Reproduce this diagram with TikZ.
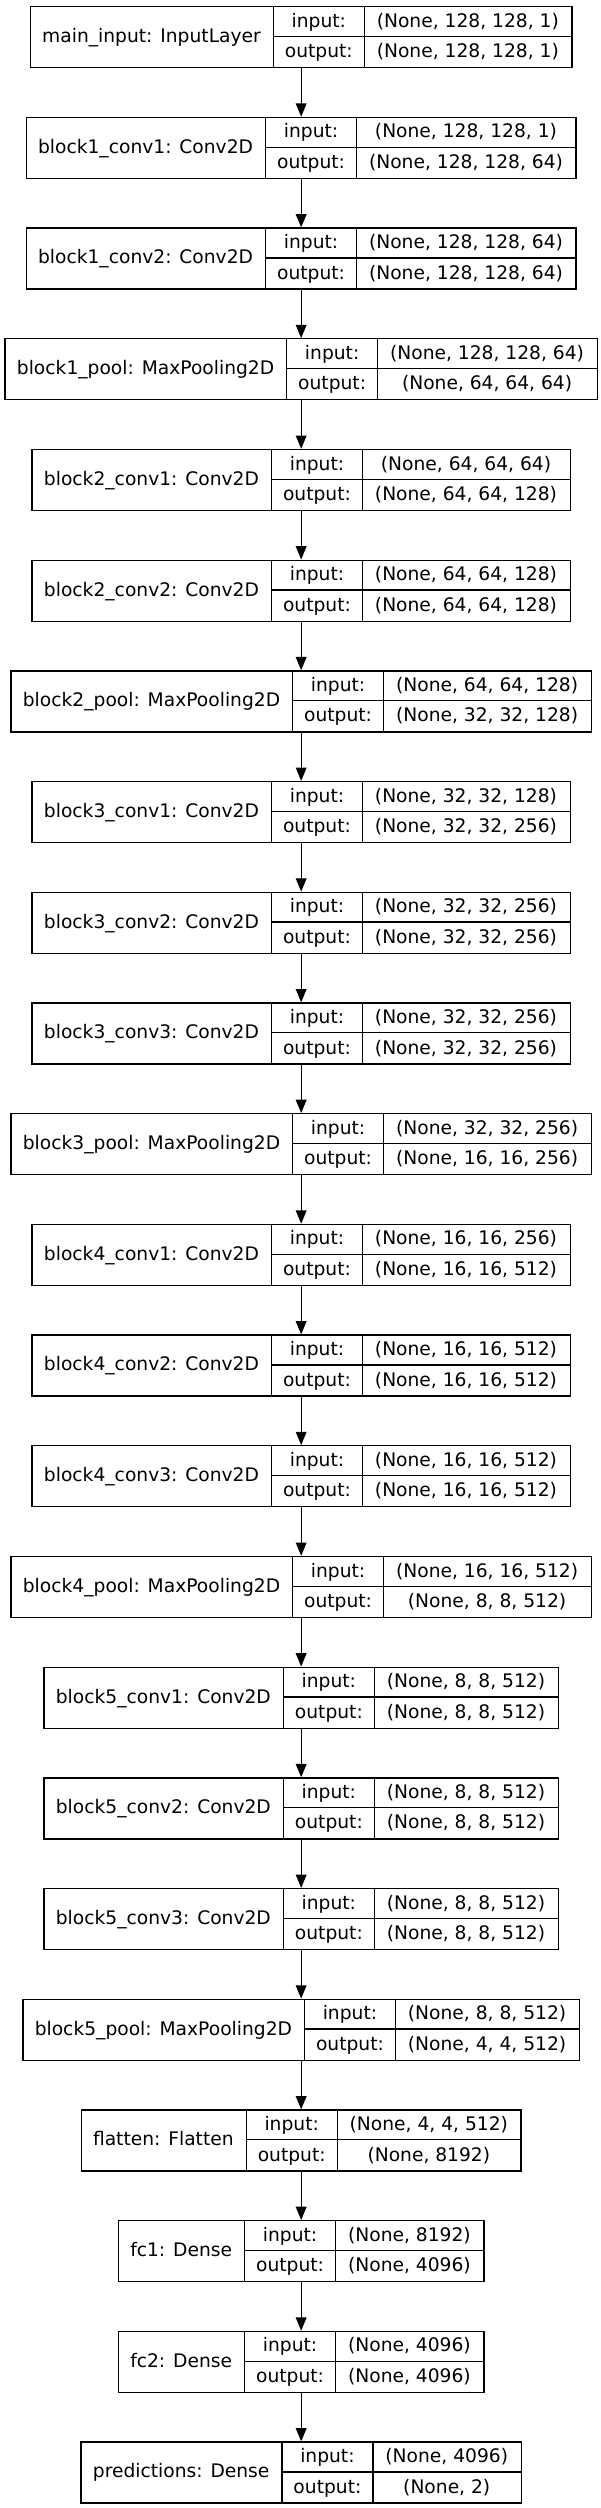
\documentclass[tikz,border=0pt]{standalone}
\usepackage{fontspec}
\setmainfont{DejaVu Sans}
\usetikzlibrary{arrows.meta}

\newlength\namew
\newlength\inw
\newlength\outw
\newcommand\layerfont{\fontsize{18.67}{22}\selectfont}

% \nnlayer{node}{row}{title}{input shape}{output shape}
\newcommand\nnlayer[5]{%
  \pgfinterruptpicture
    \settowidth\namew{\layerfont #3}\global\namew=\namew
    \settowidth\inw{\layerfont #4}%
    \settowidth\outw{\layerfont #5}%
    \ifdim\inw<\outw \inw=\outw \fi
    \global\inw=\inw
  \endpgfinterruptpicture
  \addtolength\namew{25pt}%
  \addtolength\inw{25pt}%
  \pgfmathsetmacro\ty{6+#2*110.7}%
  \pgfmathsetmacro\lx{300.5-0.5*(\namew+91pt+\inw)}%
  \pgfmathsetmacro\xa{\lx+\namew}%
  \pgfmathsetmacro\xb{\xa+91}%
  \pgfmathsetmacro\rx{\xb+\inw}%
  \pgfmathsetmacro\bw{\rx-\lx}%
  \node[layerbox, minimum width=\bw pt, anchor=north west] (#1) at (\lx,\ty) {};
  \draw[rule] (\xa,\ty) -- (\xa,\ty+61) (\xb,\ty) -- (\xb,\ty+61)
    (\xa,\ty+30.5) -- (\rx,\ty+30.5);
  \node[txt] (#1-name) at ({(\lx+\xa)/2},\ty+36.5) {#3};
  \node[txt] (#1-in) at ({(\xa+\xb)/2},\ty+21.25) {input:};
  \node[txt] (#1-out) at ({(\xa+\xb)/2},\ty+51.75) {output:};
  \node[txt] (#1-inshape) at ({(\xb+\rx)/2},\ty+21.25) {#4};
  \node[txt] (#1-outshape) at ({(\xb+\rx)/2},\ty+51.75) {#5};
}

\begin{document}
\begin{tikzpicture}[x=1pt, y=-1pt,
  layerbox/.style={draw, line width=1.33pt, inner sep=0pt, minimum height=61pt},
  rule/.style={line width=1.33pt},
  txt/.style={font=\layerfont, inner sep=0pt, anchor=base},
  edge/.style={-{Triangle[length=13.3pt,width=10.7pt]}, line width=1.33pt}]
\useasboundingbox (0,0) rectangle (601,2508);

\nnlayer{input}{0}{main\_input: InputLayer}{(None, 128, 128, 1)}{(None, 128, 128, 1)}
\nnlayer{b1c1}{1}{block1\_conv1: Conv2D}{(None, 128, 128, 1)}{(None, 128, 128, 64)}
\nnlayer{b1c2}{2}{block1\_conv2: Conv2D}{(None, 128, 128, 64)}{(None, 128, 128, 64)}
\nnlayer{b1p}{3}{block1\_pool: MaxPooling2D}{(None, 128, 128, 64)}{(None, 64, 64, 64)}
\nnlayer{b2c1}{4}{block2\_conv1: Conv2D}{(None, 64, 64, 64)}{(None, 64, 64, 128)}
\nnlayer{b2c2}{5}{block2\_conv2: Conv2D}{(None, 64, 64, 128)}{(None, 64, 64, 128)}
\nnlayer{b2p}{6}{block2\_pool: MaxPooling2D}{(None, 64, 64, 128)}{(None, 32, 32, 128)}
\nnlayer{b3c1}{7}{block3\_conv1: Conv2D}{(None, 32, 32, 128)}{(None, 32, 32, 256)}
\nnlayer{b3c2}{8}{block3\_conv2: Conv2D}{(None, 32, 32, 256)}{(None, 32, 32, 256)}
\nnlayer{b3c3}{9}{block3\_conv3: Conv2D}{(None, 32, 32, 256)}{(None, 32, 32, 256)}
\nnlayer{b3p}{10}{block3\_pool: MaxPooling2D}{(None, 32, 32, 256)}{(None, 16, 16, 256)}
\nnlayer{b4c1}{11}{block4\_conv1: Conv2D}{(None, 16, 16, 256)}{(None, 16, 16, 512)}
\nnlayer{b4c2}{12}{block4\_conv2: Conv2D}{(None, 16, 16, 512)}{(None, 16, 16, 512)}
\nnlayer{b4c3}{13}{block4\_conv3: Conv2D}{(None, 16, 16, 512)}{(None, 16, 16, 512)}
\nnlayer{b4p}{14}{block4\_pool: MaxPooling2D}{(None, 16, 16, 512)}{(None, 8, 8, 512)}
\nnlayer{b5c1}{15}{block5\_conv1: Conv2D}{(None, 8, 8, 512)}{(None, 8, 8, 512)}
\nnlayer{b5c2}{16}{block5\_conv2: Conv2D}{(None, 8, 8, 512)}{(None, 8, 8, 512)}
\nnlayer{b5c3}{17}{block5\_conv3: Conv2D}{(None, 8, 8, 512)}{(None, 8, 8, 512)}
\nnlayer{b5p}{18}{block5\_pool: MaxPooling2D}{(None, 8, 8, 512)}{(None, 4, 4, 512)}
\nnlayer{flat}{19}{flatten: Flatten}{(None, 4, 4, 512)}{(None, 8192)}
\nnlayer{fc1}{20}{fc1: Dense}{(None, 8192)}{(None, 4096)}
\nnlayer{fc2}{21}{fc2: Dense}{(None, 4096)}{(None, 4096)}
\nnlayer{pred}{22}{predictions: Dense}{(None, 4096)}{(None, 2)}

\draw[edge] (input.south) -- (b1c1.north); % one after the other
\draw[edge] (b1c1.south) -- (b1c2.north);
\draw[edge] (b1c2.south) -- (b1p.north);
\draw[edge] (b1p.south) -- (b2c1.north);
\draw[edge] (b2c1.south) -- (b2c2.north);
\draw[edge] (b2c2.south) -- (b2p.north);
\draw[edge] (b2p.south) -- (b3c1.north);
\draw[edge] (b3c1.south) -- (b3c2.north);
\draw[edge] (b3c2.south) -- (b3c3.north);
\draw[edge] (b3c3.south) -- (b3p.north);
\draw[edge] (b3p.south) -- (b4c1.north);
\draw[edge] (b4c1.south) -- (b4c2.north);
\draw[edge] (b4c2.south) -- (b4c3.north);
\draw[edge] (b4c3.south) -- (b4p.north);
\draw[edge] (b4p.south) -- (b5c1.north);
\draw[edge] (b5c1.south) -- (b5c2.north);
\draw[edge] (b5c2.south) -- (b5c3.north);
\draw[edge] (b5c3.south) -- (b5p.north);
\draw[edge] (b5p.south) -- (flat.north);
\draw[edge] (flat.south) -- (fc1.north);
\draw[edge] (fc1.south) -- (fc2.north);
\draw[edge] (fc2.south) -- (pred.north);
\end{tikzpicture}
\end{document}
